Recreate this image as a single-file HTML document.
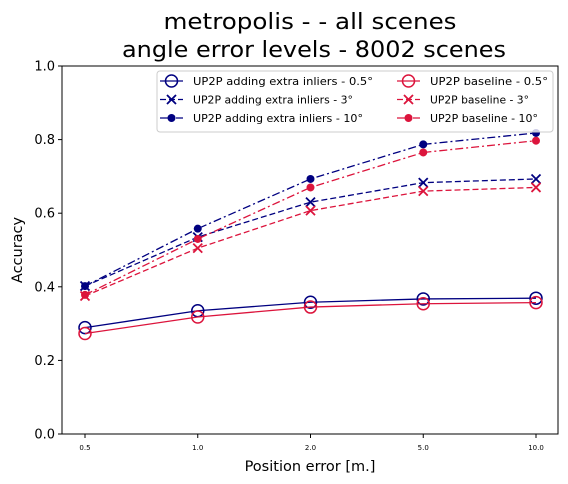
<!DOCTYPE html>
<html><head><meta charset="utf-8"><style>
body{margin:0;background:#fff;}
svg{display:block;font-family:"DejaVu Sans","Liberation Sans",sans-serif;}
</style></head><body>
<svg id="chart" width="568" height="484" viewBox="0 0 568 484">
<text x="310" y="29" font-size="22" text-anchor="middle" textLength="293" lengthAdjust="spacingAndGlyphs">metropolis -  - all scenes</text>
<text x="314" y="57" font-size="22" text-anchor="middle" textLength="384" lengthAdjust="spacingAndGlyphs">angle error levels - 8002 scenes</text>
<rect x="62" y="66" width="496" height="368" fill="none" stroke="#000" stroke-width="1"/>
<g id="axes"></g>
<g id="series"></g>
<text x="310" y="471" font-size="14.5" text-anchor="middle">Position error [m.]</text>
<text x="22" y="250" font-size="14.5" text-anchor="middle" transform="rotate(-90 22 250)">Accuracy</text>
<g>
<rect x="157" y="71" width="396" height="61" rx="3" fill="#fff" fill-opacity="0.8" stroke="#ccc"/>
</g>
<g id="legendItems"></g>
</svg>
<script>
const categories=["0.5","1.0","2.0","5.0","10.0"];
const yTicks=[0.0,0.2,0.4,0.6,0.8,1.0];
const extra05=[0.289,0.335,0.358,0.367,0.369];
const extra3=[0.402,0.535,0.630,0.683,0.693];
const extra10=[0.402,0.558,0.693,0.787,0.818];
const base05=[0.273,0.318,0.345,0.354,0.357];
const base3=[0.375,0.505,0.607,0.660,0.670];
const base10=[0.378,0.530,0.670,0.765,0.797];
const NS="http://www.w3.org/2000/svg";
function xs(i){return 85+i*(536-85)/(categories.length-1);}
function ys(v){return 434-v*368;}
function mk(tag,attrs,parent){const e=document.createElementNS(NS,tag);for(const k in attrs)e.setAttribute(k,attrs[k]);parent.appendChild(e);return e;}
const axes=document.getElementById('axes');
yTicks.forEach(t=>{
  const l=mk('line',{x1:58,x2:62,y1:ys(t),y2:ys(t),stroke:'#000'},axes);
  
  
  const tx=mk('text',{x:55,y:ys(t)+4.5,'font-size':13,'text-anchor':'end'},axes);
  tx.textContent=t.toFixed(1);
  
  
});
categories.forEach((c,i)=>{
  const l=mk('line',{x1:xs(i),x2:xs(i),y1:434,y2:438,stroke:'#000'},axes);
  
  
  const tx=mk('text',{x:xs(i),y:450,'font-size':7,'text-anchor':'middle'},axes);
  tx.textContent=c;
  
  
});
const NAVY='#000080',RED='#dc143c';
const series=[
 {name:'extra-0.5',vals:extra05,color:NAVY,dash:'',marker:'o',label:'UP2P adding extra inliers - 0.5°',w:180},
 {name:'extra-3',vals:extra3,color:NAVY,dash:'6,3',marker:'x',label:'UP2P adding extra inliers - 3°',w:160},
 {name:'extra-10',vals:extra10,color:NAVY,dash:'8,3,2,3',marker:'.',label:'UP2P adding extra inliers - 10°',w:170},
 {name:'base-0.5',vals:base05,color:RED,dash:'',marker:'o',label:'UP2P baseline - 0.5°',w:118},
 {name:'base-3',vals:base3,color:RED,dash:'6,3',marker:'x',label:'UP2P baseline - 3°',w:99},
 {name:'base-10',vals:base10,color:RED,dash:'8,3,2,3',marker:'.',label:'UP2P baseline - 10°',w:108}
];
function marker(g,type,x,y,c,scale){
  let e;
  if(type==='o'){e=mk('circle',{cx:x,cy:y,r:6*scale,fill:'none',stroke:c,'stroke-width':1.5},g);}
  else if(type==='x'){const d=4.5*scale;e=mk('path',{d:`M${x-d},${y-d}L${x+d},${y+d}M${x-d},${y+d}L${x+d},${y-d}`,stroke:c,'stroke-width':1.8},g);}
  else{e=mk('circle',{cx:x,cy:y,r:4*scale,fill:c},g);}
  
  
}
const sg=document.getElementById('series');
series.forEach(s=>{
  const g=mk('g',{},sg);
  
  
  const p=mk('polyline',{points:s.vals.map((v,i)=>xs(i)+','+ys(v)).join(' '),fill:'none',stroke:s.color,'stroke-width':1.3,'stroke-dasharray':s.dash},g);
  
  
  s.vals.forEach((v,i)=>marker(g,s.marker,xs(i),ys(v),s.color,1));
});
const lg=document.getElementById('legendItems');
series.forEach((s,k)=>{
  const col=k<3?0:1,row=k%3;
  const x0=col===0?160:397,y=81+row*18.5;
  const g=mk('g',{},lg);
  
  
  mk('line',{x1:x0,x2:x0+23,y1:y,y2:y,stroke:s.color,'stroke-width':1.3,'stroke-dasharray':s.dash},g);
  marker(g,s.marker,x0+11.5,y,s.color,1);
  const t=mk('text',{x:x0+33,y:y+4,'font-size':11,textLength:s.w,lengthAdjust:'spacingAndGlyphs'},g);
  t.textContent=s.label;
});
</script>
</body></html>
